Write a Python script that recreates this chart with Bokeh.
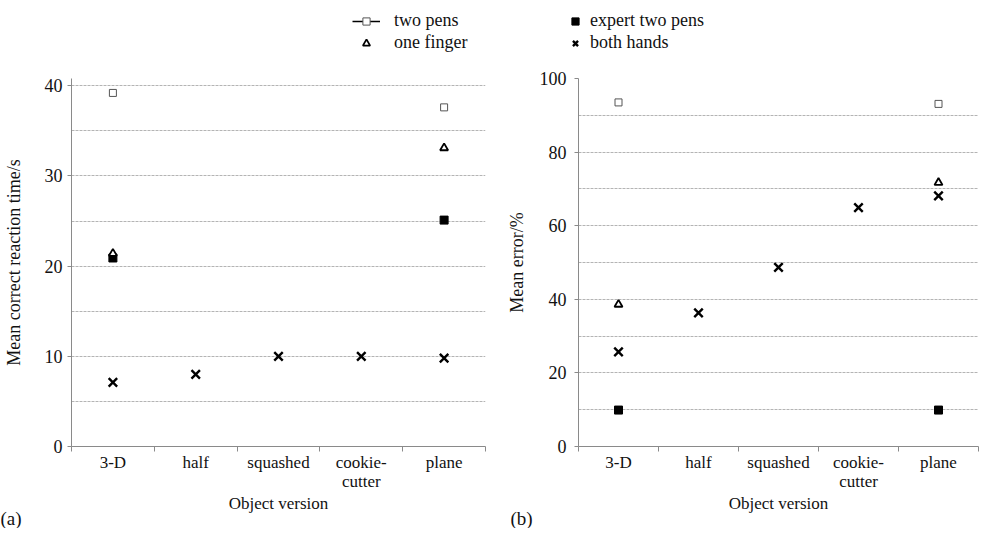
from bokeh.plotting import figure
from bokeh.layouts import column, row
from bokeh.models import Range1d, FixedTicker, Label, Legend, LegendItem
from bokeh.embed import file_html
from bokeh.resources import INLINE

# ---------------- data ----------------
categories = ["3-D", "half", "squashed", "cookie-\ncutter", "plane"]

two_pens_cats = ["3-D", "plane"]
one_finger_cats = ["3-D", "plane"]
expert_cats = ["3-D", "plane"]
both_hands_cats = ["3-D", "half", "squashed", "cookie-\ncutter", "plane"]

# (a) mean correct reaction time / s
two_pens_time = [39.2, 37.6]
one_finger_time = [21.4, 33.1]
expert_time = [20.9, 25.1]
both_hands_time = [7.1, 8.0, 10.0, 10.0, 9.8]

# (b) mean error / %
two_pens_err = [93.5, 93.1]
one_finger_err = [38.6, 71.7]
expert_err = [9.9, 9.9]
both_hands_err = [25.7, 36.3, 48.7, 64.9, 68.1]

time_label_ticks = [0, 10, 20, 30, 40]
time_grid_ticks = [5, 10, 15, 20, 25, 30, 35, 40]
err_label_ticks = [0, 20, 40, 60, 80, 100]
err_grid_ticks = [10, 20, 30, 40, 50, 60, 70, 80, 90, 100]

panel_tags = ["(a)", "(b)"]

# ---------------- styles ----------------
FONT = "Liberation Serif"
TXT = "#111111"
AXIS = "#8a8a8a"
GRID = "#b4b4b4"

STYLES = {
    "two pens": dict(marker="square", size=7, fill_color="white", line_color="#555555", line_width=1),
    "one finger": dict(marker="triangle", size=8, fill_color="white", line_color="black", line_width=1.8),
    "expert two pens": dict(marker="square", size=8, fill_color="black", line_color="black", line_width=1),
    "both hands": dict(marker="x", size=12, line_color="black", line_width=2.4),
}


def xpos(cats):
    return [categories.index(c) + 0.5 for c in cats]


def make_panel(width, b_left, b_right, y_view_max, y_label, label_ticks, grid_ticks,
               series, lab_standoff, ax_standoff):
    p = figure(width=width, height=450, output_backend="svg", toolbar_location=None,
               x_range=Range1d(0, len(categories)), y_range=Range1d(0, y_view_max),
               min_border_left=b_left, min_border_top=13, min_border_right=b_right,
               min_border_bottom=60)
    p.outline_line_color = None
    p.background_fill_color = "white"
    p.border_fill_color = "white"
    p.xgrid.visible = False
    p.ygrid.ticker = FixedTicker(ticks=grid_ticks)
    p.ygrid.grid_line_color = GRID
    p.ygrid.grid_line_dash = "3 1"
    p.ygrid.grid_line_width = 1

    # x axis: labels at category centres, tick marks at boundaries
    xa = p.xaxis[0]
    xa.ticker = FixedTicker(ticks=[i + 0.5 for i in range(len(categories))],
                            minor_ticks=list(range(len(categories) + 1)))
    xa.major_label_overrides = {i + 0.5: c for i, c in enumerate(categories)}
    xa.major_tick_out = 0
    xa.major_tick_in = 0
    xa.minor_tick_out = 5
    xa.minor_tick_in = 0
    xa.minor_tick_line_color = AXIS
    xa.axis_line_color = AXIS
    xa.major_label_text_font = FONT
    xa.major_label_text_font_size = "17px"
    xa.major_label_text_line_height = 1.0
    xa.major_label_text_color = TXT
    xa.major_label_standoff = 1
    xa.axis_label = "Object version"
    xa.axis_label_text_font = FONT
    xa.axis_label_text_font_size = "17px"
    xa.axis_label_text_line_height = 1.0
    xa.axis_label_text_font_style = "normal"
    xa.axis_label_text_color = TXT
    xa.axis_label_standoff = 0

    ya = p.yaxis[0]
    ya.ticker = FixedTicker(ticks=label_ticks, minor_ticks=[])
    ya.major_tick_out = 4
    ya.major_tick_in = 0
    ya.minor_tick_out = 0
    ya.major_tick_line_color = AXIS
    ya.axis_line_color = AXIS
    ya.major_label_text_font = FONT
    ya.major_label_text_font_size = "18px"
    ya.major_label_text_color = TXT
    ya.major_label_standoff = lab_standoff
    ya.axis_label = y_label
    ya.axis_label_text_font = FONT
    ya.axis_label_text_font_size = "18px"
    ya.axis_label_text_font_style = "normal"
    ya.axis_label_text_color = TXT
    ya.axis_label_standoff = ax_standoff

    for name, cats, vals in series:
        p.scatter(x=xpos(cats), y=vals, **STYLES[name])
    return p


# panel (a) view top sits a little above 40 so that 40 lines up as in the original
pa = make_panel(500, 64, 15, 40.8, "Mean correct reaction time/s",
                time_label_ticks, time_grid_ticks,
                [("two pens", two_pens_cats, two_pens_time),
                 ("expert two pens", expert_cats, expert_time),
                 ("one finger", one_finger_cats, one_finger_time),
                 ("both hands", both_hands_cats, both_hands_time)],
                5, 18)

pb = make_panel(479, 78, 1, 100, "Mean error/%",
                err_label_ticks, err_grid_ticks,
                [("two pens", two_pens_cats, two_pens_err),
                 ("expert two pens", expert_cats, expert_err),
                 ("one finger", one_finger_cats, one_finger_err),
                 ("both hands", both_hands_cats, both_hands_err)],
                8, 10)

# ---------------- legend strip (top) ----------------
lg = figure(width=979, height=65, output_backend="svg", toolbar_location=None,
            x_range=Range1d(-100, -99), y_range=Range1d(-100, -99),
            x_axis_type=None, y_axis_type=None, min_border=0)
lg.outline_line_color = None
lg.grid.visible = False

# renderers only feed the legend; the strip's ranges keep them out of view
r_line = lg.line(x=xpos(two_pens_cats), y=two_pens_time, line_color="black", line_width=1.5)
r_two = lg.scatter(x=xpos(two_pens_cats), y=two_pens_time, **STYLES["two pens"])
r_one = lg.scatter(x=xpos(one_finger_cats), y=one_finger_time, **STYLES["one finger"])
r_exp = lg.scatter(x=xpos(expert_cats), y=expert_time, **STYLES["expert two pens"])
r_both = lg.scatter(x=xpos(both_hands_cats), y=both_hands_time, **STYLES["both hands"])


def style_legend(leg):
    leg.label_text_font = FONT
    leg.label_text_font_size = "18px"
    leg.label_text_color = TXT
    leg.label_height = 18
    leg.glyph_height = 18
    leg.spacing = 1
    leg.padding = 0
    leg.margin = 0
    leg.border_line_color = None
    leg.background_fill_alpha = 0
    leg.orientation = "vertical"
    return leg


leg1 = style_legend(Legend(items=[LegendItem(label="two pens", renderers=[r_line, r_two]),
                                  LegendItem(label="one finger", renderers=[r_one])],
                           location=(352, 12)))
leg1.glyph_width = 28
leg1.label_standoff = 14

leg2 = style_legend(Legend(items=[LegendItem(label="expert two pens", renderers=[r_exp]),
                                  LegendItem(label="both hands", renderers=[r_both])],
                           location=(566, 12)))
leg2.glyph_width = 18
leg2.label_standoff = 6

lg.add_layout(leg1)
lg.add_layout(leg2)

# ---------------- panel tags strip (bottom, transparent, overlapping) ----------------
tags = figure(width=979, height=22, output_backend="svg", toolbar_location=None,
              x_range=Range1d(0, 979), y_range=Range1d(0, 22),
              x_axis_type=None, y_axis_type=None, min_border=0,
              margin=(-9, 0, 0, 0))
tags.outline_line_color = None
tags.grid.visible = False
tags.background_fill_color = None
tags.border_fill_color = None
for tag, sx in zip(panel_tags, [0, 510]):
    tags.add_layout(Label(x=sx, y=10, x_units="screen", y_units="screen", text=tag,
                          text_font=FONT, text_font_size="19px", text_color=TXT,
                          text_baseline="middle"))

layout = column(lg, row(pa, pb), tags)

open("out.html", "w").write(file_html(layout, INLINE))
